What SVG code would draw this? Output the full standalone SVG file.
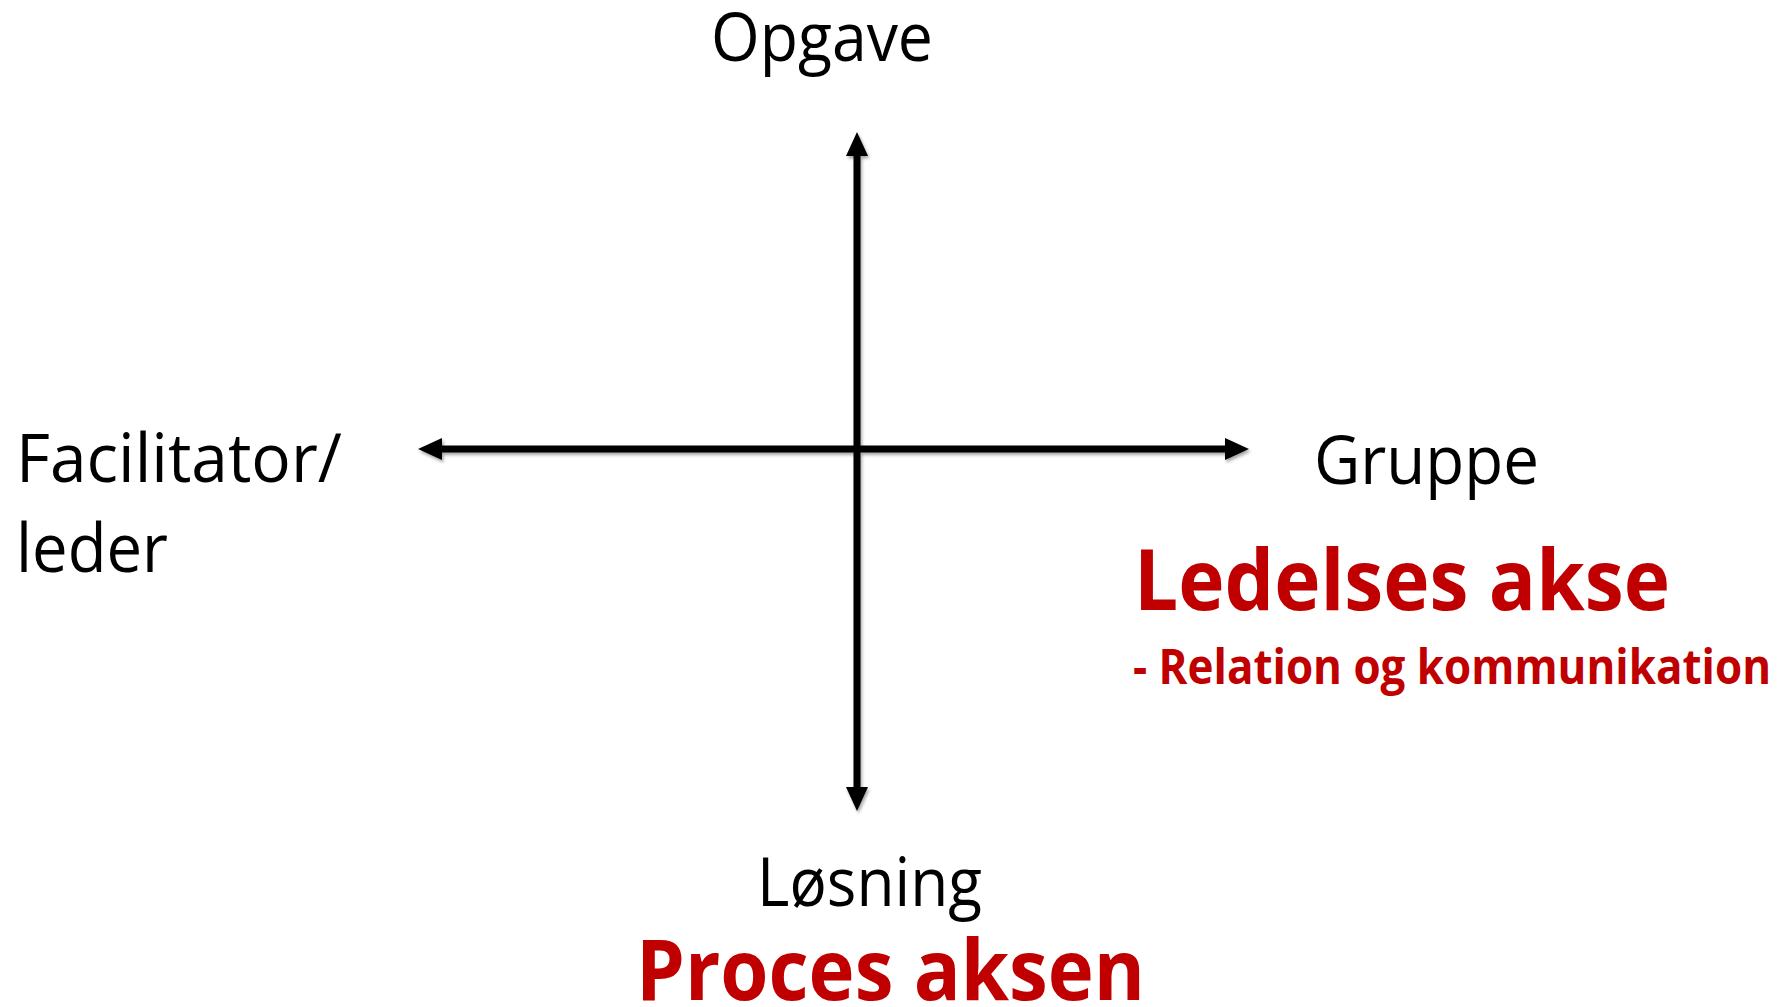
<svg xmlns="http://www.w3.org/2000/svg" width="1787" height="1007" viewBox="0 0 1787 1007">
<style>
.lbl{font-family:"Open Sans","Noto Sans","Liberation Sans",sans-serif;fill:#000;font-size:68px}
.red{font-family:"Open Sans","Noto Sans","Liberation Sans",sans-serif;fill:#C00000;font-weight:bold}
.axis{stroke:#000;stroke-width:7;fill:none}
</style>
<defs>
<marker id="ah" markerUnits="userSpaceOnUse" viewBox="0 0 24 22" refX="12" refY="11" markerWidth="24" markerHeight="22" orient="auto-start-reverse">
<path d="M0,0 L24,11 L0,22 z" fill="#000"/>
</marker>
<filter id="sh" x="-5%" y="-5%" width="110%" height="110%">
<feDropShadow dx="1.5" dy="2.5" stdDeviation="1.5" flood-color="#000" flood-opacity="0.35"/>
</filter>
</defs>
<g id="connectors" filter="url(#sh)">
<line class="axis" x1="430" y1="449" x2="1237" y2="449" marker-start="url(#ah)" marker-end="url(#ah)"/>
<line class="axis" x1="857" y1="144" x2="857" y2="799" marker-start="url(#ah)" marker-end="url(#ah)"/>
</g>
<g id="opgave"><text class="lbl" x="711" y="61" textLength="222" lengthAdjust="spacingAndGlyphs">Opgave</text></g>
<g id="facilitator"><text class="lbl" x="16" y="482" textLength="326" lengthAdjust="spacingAndGlyphs">Facilitator/</text><text class="lbl" x="16" y="572" textLength="152" lengthAdjust="spacingAndGlyphs">leder</text></g>
<g id="gruppe"><text class="lbl" x="1314" y="484" textLength="225" lengthAdjust="spacingAndGlyphs">Gruppe</text></g>
<g id="losning"><text class="lbl" x="757" y="906" textLength="225" lengthAdjust="spacingAndGlyphs">Løsning</text></g>
<g id="ledelses"><text class="red" x="1134" y="610" font-size="84" textLength="536" lengthAdjust="spacingAndGlyphs">Ledelses akse</text><text class="red" x="1133" y="684" font-size="48" textLength="638" lengthAdjust="spacingAndGlyphs">- Relation og kommunikation</text></g>
<g id="proces"><text class="red" x="636" y="1000" font-size="84" textLength="509" lengthAdjust="spacingAndGlyphs">Proces aksen</text></g>
</svg>
